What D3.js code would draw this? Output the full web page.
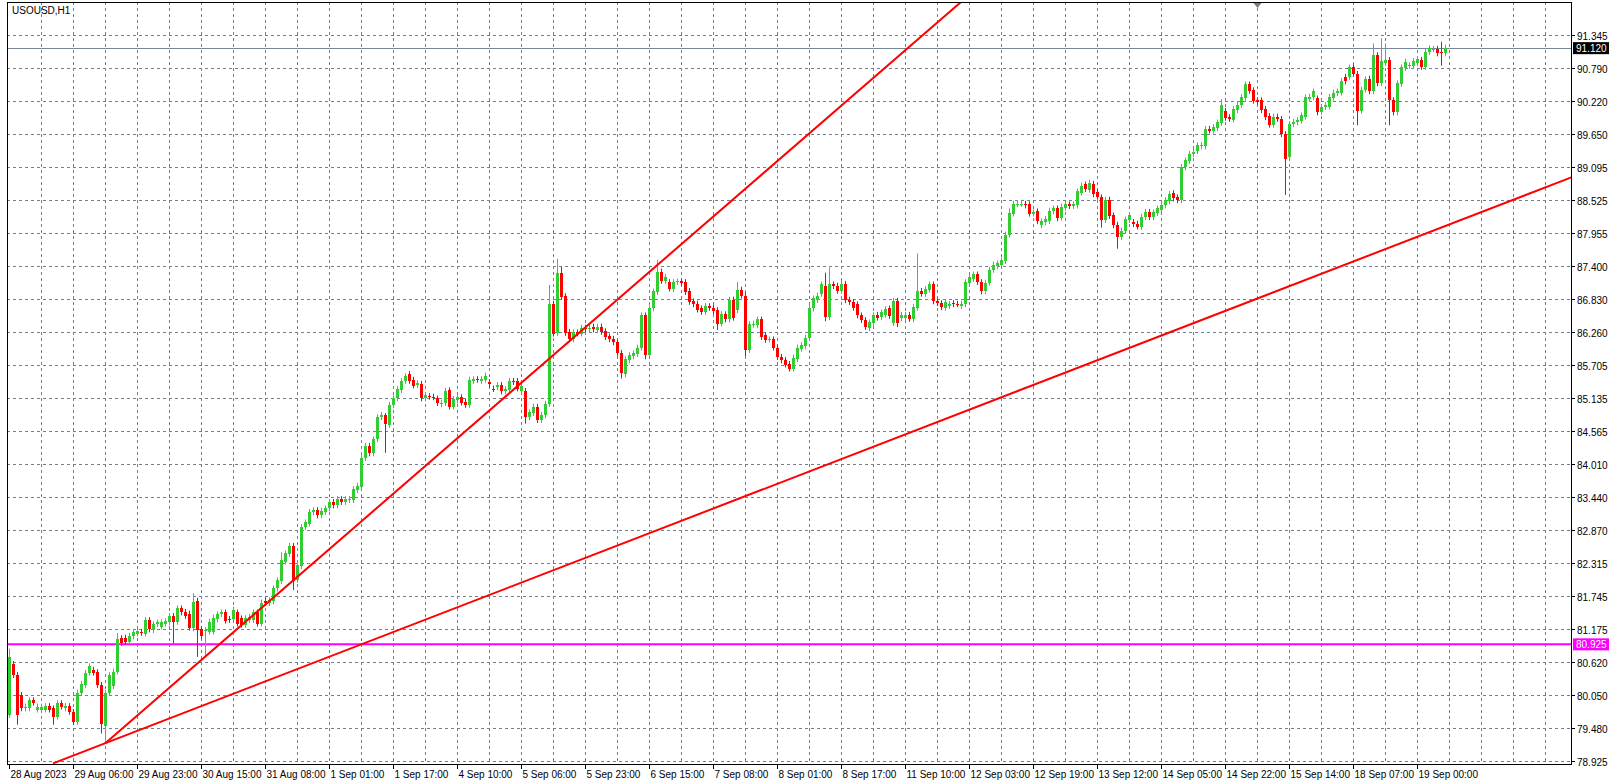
<!DOCTYPE html>
<html><head><meta charset="utf-8">
<script src="https://cdn.jsdelivr.net/npm/d3@7/dist/d3.min.js"></script>
<style>body{margin:0;background:#fff}svg{display:block}text{font-family:"Liberation Sans",Arial,sans-serif;font-size:10px}</style>
</head><body><svg id="c" width="1611" height="783"></svg>
<script>
const symbol = "USOUSD,H1";
const timeLabels = ["28 Aug 2023","29 Aug 06:00","29 Aug 23:00","30 Aug 15:00","31 Aug 08:00","1 Sep 01:00","1 Sep 17:00","4 Sep 10:00","5 Sep 06:00","5 Sep 23:00","6 Sep 15:00","7 Sep 08:00","8 Sep 01:00","8 Sep 17:00","11 Sep 10:00","12 Sep 03:00","12 Sep 19:00","13 Sep 12:00","14 Sep 05:00","14 Sep 22:00","15 Sep 14:00","18 Sep 07:00","19 Sep 00:00"];
const priceLabels = ["91.345","90.790","90.220","89.650","89.095","88.525","87.955","87.400","86.830","86.260","85.705","85.135","84.565","84.010","83.440","82.870","82.315","81.745","81.175","80.620","80.050","79.480","78.925"];
const opens = [79.72,80.59,80.40,80.06,79.83,79.83,79.97,79.81,79.81,79.81,
79.87,79.83,79.69,79.92,79.83,79.87,79.77,79.60,80.10,80.23,
80.44,80.49,80.45,80.23,79.53,80.09,80.21,80.46,81.03,81.04,
80.97,81.06,81.11,81.14,81.11,81.34,81.17,81.27,81.23,81.28,
81.30,81.41,81.31,81.54,81.48,81.45,81.20,81.67,81.19,81.16,
81.14,81.14,81.35,81.44,81.47,81.36,81.35,81.47,81.37,81.26,
81.34,81.34,81.47,81.28,81.67,81.63,81.66,81.88,82.01,82.34,
82.47,82.61,82.03,82.26,82.93,82.99,83.18,83.22,83.13,83.19,
83.25,83.36,83.30,83.41,83.36,83.39,83.39,83.56,83.62,84.11,
84.32,84.19,84.43,84.81,84.85,84.68,85.01,85.13,85.27,85.43,
85.55,85.45,85.36,85.38,85.13,85.17,85.16,85.13,85.03,85.05,
85.27,84.99,85.10,85.15,85.07,85.02,85.43,85.46,85.43,85.45,
85.41,85.30,85.32,85.36,85.25,85.27,85.43,85.43,85.26,85.26,
84.81,84.88,84.99,84.76,84.84,85.04,86.75,86.25,87.27,86.88,
86.27,86.14,86.26,86.24,86.34,86.31,86.36,86.30,86.36,86.28,
86.19,86.15,86.09,85.91,85.54,85.78,85.85,85.89,86.00,86.55,
85.87,86.67,86.95,87.30,87.14,87.12,87.00,87.12,87.13,87.12,
86.97,86.79,86.75,86.67,86.61,86.71,86.68,86.64,86.41,86.57,
86.48,86.82,86.64,86.99,86.89,85.96,86.39,86.38,86.48,86.21,
86.14,86.14,86.00,85.84,85.79,85.72,85.64,85.80,85.98,86.02,
86.17,86.67,86.81,86.92,87.06,86.52,87.08,87.06,86.97,87.09,
86.82,86.78,86.74,86.55,86.47,86.33,86.42,86.56,86.52,86.56,
86.67,86.42,86.80,86.50,86.50,86.56,86.48,86.68,86.97,86.92,
86.99,87.08,86.80,86.76,86.68,86.71,86.76,86.75,86.71,86.74,
87.11,87.17,87.25,87.12,86.96,87.11,87.33,87.39,87.42,87.48,
87.93,88.29,88.45,88.46,88.46,88.45,88.29,88.33,88.09,88.14,
88.16,88.33,88.38,88.22,88.39,88.45,88.42,88.43,88.65,88.79,
88.70,88.80,88.66,88.57,88.18,88.53,88.26,88.10,87.89,88.00,
88.18,88.15,88.12,88.06,88.23,88.32,88.23,88.30,88.36,88.43,
88.50,88.64,88.57,88.52,89.08,89.19,89.31,89.36,89.44,89.44,
89.74,89.71,89.75,89.84,90.05,89.94,89.90,90.06,90.15,90.27,
90.50,90.40,90.23,90.23,90.08,89.96,89.81,89.95,89.91,89.65,
89.26,89.82,89.85,89.88,89.95,90.25,90.28,90.26,90.03,90.11,
90.12,90.27,90.35,90.36,90.63,90.63,90.79,90.68,90.05,90.41,
90.60,90.38,91.00,90.52,90.87,90.92,90.23,90.02,90.51,90.78,
90.82,90.82,90.86,90.92,90.80,91.05,91.10,91.11,91.05,91.03];
const closes = [80.71,80.40,79.72,79.83,79.86,79.97,79.93,79.86,79.86,79.87,
79.81,79.69,79.92,79.86,79.87,79.77,79.60,80.10,80.25,80.44,
80.55,80.44,80.23,79.56,80.09,80.40,80.46,81.02,80.95,80.97,
81.07,81.14,81.15,81.12,81.34,81.18,81.27,81.30,81.30,81.32,
81.41,81.31,81.54,81.47,81.41,81.21,81.65,81.17,81.07,81.17,
81.31,81.38,81.44,81.47,81.33,81.34,81.52,81.28,81.26,81.37,
81.40,81.47,81.28,81.64,81.63,81.68,81.88,82.02,82.37,82.48,
82.61,82.01,82.28,82.93,83.01,83.19,83.22,83.13,83.21,83.25,
83.36,83.30,83.41,83.36,83.41,83.41,83.58,83.64,84.12,84.32,
84.19,84.43,84.81,84.85,84.69,85.02,85.13,85.29,85.43,85.51,
85.43,85.35,85.39,85.13,85.19,85.16,85.15,85.05,85.06,85.26,
84.99,85.12,85.15,85.06,85.02,85.45,85.46,85.45,85.46,85.52,
85.37,85.29,85.36,85.25,85.29,85.43,85.41,85.30,85.35,84.81,
84.89,84.99,84.76,84.85,85.04,86.75,86.24,87.27,86.87,86.25,
86.14,86.26,86.24,86.34,86.31,86.34,86.31,86.36,86.27,86.18,
86.14,86.09,85.91,85.56,85.80,85.87,85.90,86.00,86.55,85.87,
86.67,86.96,87.30,87.14,87.21,87.01,87.12,87.13,87.11,86.95,
86.78,86.74,86.65,86.61,86.71,86.68,86.62,86.41,86.57,86.48,
86.82,86.51,86.99,86.89,85.95,86.40,86.41,86.48,86.18,86.13,
86.14,86.00,85.84,85.78,85.71,85.64,85.83,86.00,86.04,86.17,
86.68,86.84,86.89,87.08,86.52,87.08,87.05,86.97,87.09,86.81,
86.78,86.68,86.55,86.47,86.35,86.43,86.55,86.51,86.60,86.66,
86.54,86.80,86.42,86.56,86.56,86.49,86.70,86.97,86.92,87.00,
87.08,86.79,86.76,86.69,86.78,86.75,86.74,86.74,86.75,87.12,
87.20,87.25,87.12,86.96,87.11,87.33,87.42,87.44,87.49,87.93,
88.30,88.46,88.46,88.46,88.43,88.29,88.31,88.16,88.16,88.20,
88.34,88.38,88.21,88.41,88.45,88.42,88.45,88.67,88.77,88.71,
88.82,88.62,88.58,88.18,88.53,88.25,88.09,87.89,88.00,88.19,
88.26,88.11,88.07,88.24,88.32,88.23,88.31,88.38,88.44,88.52,
88.63,88.55,88.52,89.09,89.20,89.31,89.35,89.46,89.46,89.74,
89.71,89.77,89.85,90.15,89.93,89.91,90.08,90.15,90.28,90.50,
90.39,90.22,90.20,90.06,89.94,89.81,89.95,89.91,89.65,89.22,
89.82,89.86,89.89,89.97,90.28,90.29,90.38,90.02,90.11,90.15,
90.29,90.36,90.38,90.56,90.55,90.79,90.68,90.05,90.41,90.59,
90.38,91.00,90.52,90.90,90.92,90.23,90.02,90.52,90.79,90.89,
90.83,90.90,90.93,90.80,91.06,91.12,91.11,91.03,91.03,91.13];
// notable wick extremes (index -> price)
const wickHigh = {0:80.85,27:81.12,46:81.80,47:81.72,68:82.50,73:82.98,88:84.18,94:84.88,137:87.52,135:87.07,138:87.38,162:87.50,182:87.12,204:87.28,205:87.37,227:87.61,250:88.38,273:88.62,303:90.25,341:91.20,343:91.29,344:91.20,358:91.23};
const wickLow = {2:79.55,11:79.55,23:79.40,24:79.23,41:80.94,47:80.71,49:80.71,71:81.85,94:84.20,129:84.70,153:85.47,159:85.80,177:86.30,184:85.85,204:86.45,222:86.35,277:87.69,273:88.05,319:88.61,337:89.80,345:89.80,358:90.82};
const trendA = {i0:24, p0:79.23, slope:0.05925};
const trendB = {i0:11, p0:78.89, slope:0.0264};
const magentaLevel = 80.925, lastPrice = 91.120;
const shiftIndex = 312;

const svg = d3.select("#c");
const L=7, R=1571, T=2, B=764;
const x = d3.scaleLinear().domain([0,1]).range([9,13]);
const y = d3.scaleLinear().domain([78.925,91.345]).range([761.3,35]);
const gridStep = (91.345-78.925)/22;

svg.append("rect").attr("width",1611).attr("height",783).attr("fill","#fff");
const g = svg.append("g");
for (let k=1; x(8*k) < R; k++) {
  g.append("line").attr("x1",x(8*k)+.5).attr("x2",x(8*k)+.5).attr("y1",T).attr("y2",B)
   .attr("stroke","#708090").attr("stroke-dasharray","3,3");
}
priceLabels.forEach((lab,k)=>{
  const yy = Math.round(y(91.345-k*gridStep))+.5;
  g.append("line").attr("x1",L).attr("x2",R).attr("y1",yy).attr("y2",yy)
   .attr("stroke","#708090").attr("stroke-dasharray","3,3");
  g.append("line").attr("x1",R).attr("x2",R+4).attr("y1",yy).attr("y2",yy).attr("stroke","#000");
  g.append("text").attr("x",R+6).attr("y",yy+4).text(lab);
});
timeLabels.forEach((lab,k)=>{
  const xx = Math.round(x(16*k))+.5;
  g.append("line").attr("x1",xx).attr("x2",xx).attr("y1",B).attr("y2",B+5).attr("stroke","#000");
  g.append("text").attr("x",xx+1).attr("y",778).text(lab);
});
svg.append("clipPath").attr("id","cl").append("rect").attr("x",L).attr("y",T).attr("width",R-L).attr("height",B-T);
const pg = svg.append("g").attr("clip-path","url(#cl)");
pg.append("line").attr("x1",L).attr("x2",R).attr("y1",Math.round(y(lastPrice))+.5).attr("y2",Math.round(y(lastPrice))+.5).attr("stroke","#778899");
pg.append("line").attr("x1",L).attr("x2",R).attr("y1",y(magentaLevel)).attr("y2",y(magentaLevel)).attr("stroke","#FF00FF").attr("stroke-width",2);
opens.forEach((o,i)=>{
  const c = closes[i], up = c>=o;
  const col = up ? "#32CD32" : "#FF0000";
  const hi = wickHigh[i] ?? Math.max(o,c)+0.05;
  const lo = wickLow[i] ?? Math.min(o,c)-0.05;
  const cx = Math.round(x(i))+.5;
  pg.append("line").attr("x1",cx).attr("x2",cx).attr("y1",y(hi)).attr("y2",y(lo)).attr("stroke",col);
  const top = Math.round(y(Math.max(o,c))), bot = Math.round(y(Math.min(o,c)));
  pg.append("rect").attr("x",cx-1.5).attr("y",top).attr("width",3).attr("height",Math.max(1,bot-top)).attr("fill",col);
});
[trendA,trendB].forEach(t=>{
  const i1 = 420;
  pg.append("line").attr("x1",x(t.i0)).attr("y1",y(t.p0)).attr("x2",x(i1)).attr("y2",y(t.p0+t.slope*(i1-t.i0)))
    .attr("stroke","#FF0000").attr("stroke-width",2);
});
svg.append("rect").attr("x",L+.5).attr("y",T+.5).attr("width",R-L).attr("height",B-T).attr("fill","none").attr("stroke","#000");
const ly = y(lastPrice);
svg.append("rect").attr("x",R+2).attr("y",ly-6).attr("width",36).attr("height",12).attr("fill","#000");
svg.append("text").attr("x",R+5).attr("y",ly+4).attr("fill","#fff").text(lastPrice.toFixed(3));
const my = y(magentaLevel);
svg.append("rect").attr("x",R+2).attr("y",my-6).attr("width",36).attr("height",12).attr("fill","#FF00FF");
svg.append("text").attr("x",R+5).attr("y",my+4).attr("fill","#fff").text(magentaLevel.toFixed(3));
const sx = x(shiftIndex)+.5;
svg.append("path").attr("d",`M${sx-4},${T+1}L${sx+4},${T+1}L${sx},${T+6}Z`).attr("fill","#708090");
svg.append("text").attr("x",12).attr("y",14).text(symbol);
</script></body></html>
